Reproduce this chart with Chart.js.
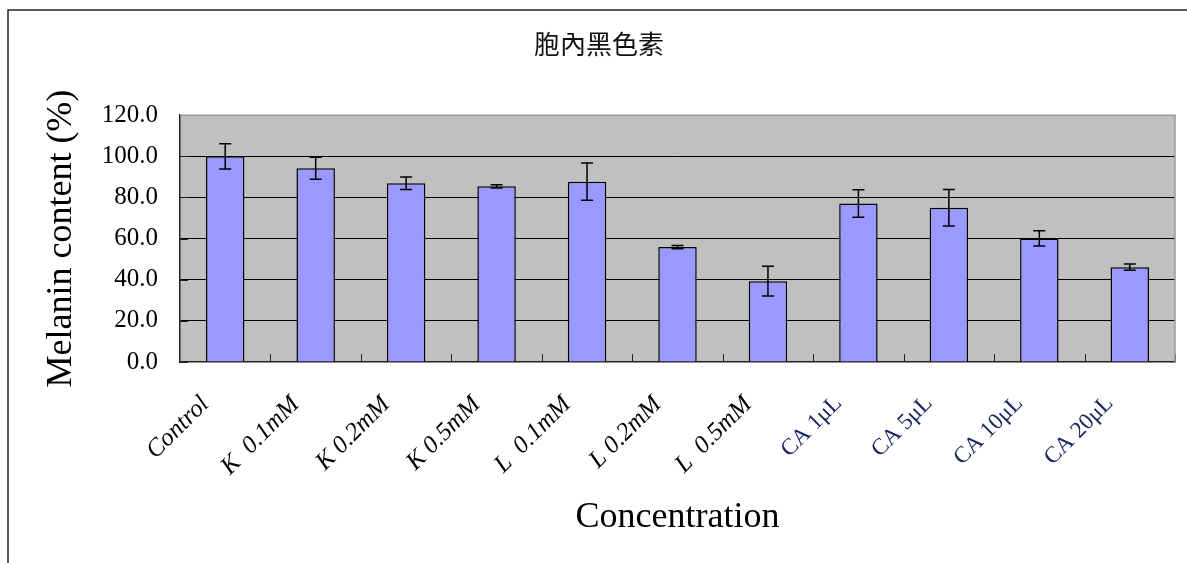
<!DOCTYPE html>
<html>
<head>
<meta charset="utf-8">
<script src="https://cdn.jsdelivr.net/npm/chart.js@4/dist/chart.umd.min.js"></script>
<style>
  html, body { margin: 0; padding: 0; background: #fff; }
  canvas { display: block; }
</style>
</head>
<body>
<canvas id="melanin" width="1187" height="563"></canvas>
<script>
// data
const categories = ['Control', 'K  0.1mM', 'K 0.2mM', 'K 0.5mM', 'L  0.1mM', 'L 0.2mM', 'L  0.5mM',
                    'CA 1μL', 'CA 5μL', 'CA 10μL', 'CA 20μL'];
const melanin = [100.0, 94.2, 86.9, 85.4, 87.7, 55.9, 39.3, 77.1, 75.0, 60.1, 46.1];
const melaninErr = [6.1, 5.3, 3.0, 0.8, 9.0, 0.8, 7.2, 6.7, 8.9, 3.7, 1.5];
const yTicks = [0, 20, 40, 60, 80, 100, 120];

const SERIF = "'Liberation Serif', 'Times New Roman', serif";
const isCA = i => categories[i] && categories[i].startsWith('CA');

// frame, grey plot background, right border
const backdrop = {
  id: 'backdrop',
  beforeDraw(chart) {
    const { ctx, chartArea: a } = chart;
    ctx.save();
    ctx.fillStyle = '#fff';
    ctx.fillRect(0, 0, chart.width, chart.height);
    ctx.strokeStyle = '#222';
    ctx.lineWidth = 1.5;
    ctx.beginPath();
    ctx.moveTo(8, chart.height);
    ctx.lineTo(8, 10);
    ctx.lineTo(chart.width, 10);
    ctx.stroke();
    ctx.fillStyle = '#c0c0c0';
    ctx.fillRect(a.left, a.top, a.right - a.left, a.bottom - a.top);
    ctx.restore();
  },
  afterDraw(chart) {
    const { ctx, chartArea: a } = chart;
    ctx.save();
    ctx.strokeStyle = '#999';
    ctx.lineWidth = 1.5;
    ctx.beginPath();
    ctx.moveTo(a.left, a.top);
    ctx.lineTo(a.right, a.top);
    ctx.lineTo(a.right, a.bottom);
    ctx.stroke();
    ctx.restore();
  }
};

// error bars + inside tick marks
const errorBars = {
  id: 'errorBars',
  afterDatasetsDraw(chart) {
    const { ctx, scales: { x, y }, chartArea: a } = chart;
    const meta = chart.getDatasetMeta(0);
    ctx.save();
    ctx.strokeStyle = '#000';
    ctx.lineWidth = 1.5;
    meta.data.forEach((bar, i) => {
      const top = y.getPixelForValue(melanin[i] + melaninErr[i]);
      const bot = y.getPixelForValue(melanin[i] - melaninErr[i]);
      ctx.beginPath();
      ctx.moveTo(bar.x, top); ctx.lineTo(bar.x, bot);
      ctx.moveTo(bar.x - 6, top); ctx.lineTo(bar.x + 6, top);
      ctx.moveTo(bar.x - 6, bot); ctx.lineTo(bar.x + 6, bot);
      ctx.stroke();
    });
    ctx.lineWidth = 1;
    ctx.strokeStyle = '#222';
    ctx.beginPath();
    yTicks.forEach(v => {
      const py = Math.round(y.getPixelForValue(v)) + 0.5;
      ctx.moveTo(a.left, py); ctx.lineTo(a.left + 8, py);
    });
    for (let i = 1; i <= categories.length; i++) {
      const px = i < categories.length
        ? (x.getPixelForValue(i - 1) + x.getPixelForValue(i)) / 2
        : a.right;
      ctx.moveTo(Math.round(px) + 0.5, a.bottom); ctx.lineTo(Math.round(px) + 0.5, a.bottom - 8);
    }
    ctx.stroke();
    ctx.restore();
  }
};

new Chart(document.getElementById('melanin').getContext('2d'), {
  type: 'bar',
  data: {
    labels: categories,
    datasets: [{
      label: 'Melanin content',
      data: melanin,
      backgroundColor: '#9999ff',
      borderColor: '#000',
      borderWidth: 1.5,
      barPercentage: 0.425,
      categoryPercentage: 1.0
    }]
  },
  options: {
    responsive: false,
    animation: false,
    devicePixelRatio: 1,
    layout: { padding: { left: 23, top: 0, right: 12, bottom: 0 }, autoPadding: false },
    plugins: {
      legend: { display: false },
      tooltip: { enabled: false },
      title: {
        display: true,
        text: '胞內黑色素',
        color: '#111',
        font: { family: "'Noto Sans CJK TC', 'Noto Sans CJK SC', sans-serif", size: 26, weight: 'normal' },
        padding: { top: 29, bottom: 55 }
      }
    },
    scales: {
      x: {
        grid: { display: false },
        border: { color: '#222', width: 1.5 },
        afterFit: s => { s.height = 201; },
        ticks: {
          minRotation: 45,
          maxRotation: 45,
          padding: 20,
          labelOffset: -20,
          color: ctx => isCA(ctx.index) ? '#1a2660' : '#000',
          font: ctx => isCA(ctx.index)
            ? { family: SERIF, size: 23, style: 'normal' }
            : { family: SERIF, size: 25, style: 'italic' }
        },
        title: {
          display: true,
          text: 'Concentration',
          color: '#000',
          font: { family: SERIF, size: 36 },
          padding: { top: 0, bottom: 24 }
        }
      },
      y: {
        min: 0,
        max: 120,
        afterFit: s => { s.width = 157; },
        afterBuildTicks: s => { s.ticks = yTicks.map(v => ({ value: v })); },
        grid: {
          drawTicks: false,
          color: ctx => (ctx.tick && (ctx.tick.value === 0 || ctx.tick.value === 120)) ? 'rgba(0,0,0,0)' : '#000',
          lineWidth: 1
        },
        border: { color: '#222', width: 1.5 },
        ticks: {
          padding: 22,
          color: '#000',
          font: { family: SERIF, size: 25 },
          callback: v => Number(v).toFixed(1)
        },
        title: {
          display: true,
          text: 'Melanin content (%)',
          color: '#000',
          font: { family: SERIF, size: 36 },
          padding: { top: 17, bottom: 0 }
        }
      }
    }
  },
  plugins: [backdrop, errorBars]
});
</script>
</body>
</html>
